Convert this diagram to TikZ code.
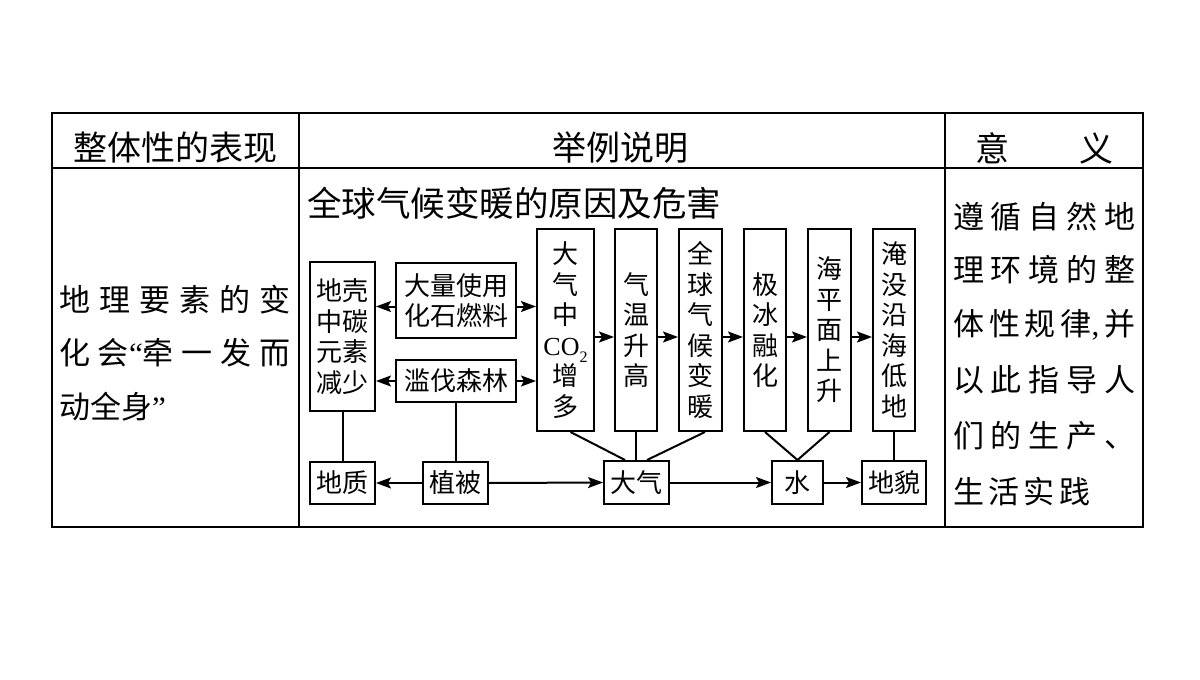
\documentclass[tikz,border=0pt]{standalone}
\usepackage{fontspec}
\setmainfont{Noto Sans CJK SC}
\newfontfamily\latf{Liberation Serif}
\usetikzlibrary{arrows.meta}
\begin{document}
\begin{tikzpicture}[x=1pt,y=-1pt,
 bx/.style={draw,line width=2pt,inner sep=0pt,align=center,font=\fontsize{26}{30.5}\selectfont},
 ln/.style={line width=2pt},
 arr/.style={line width=2pt,-{Stealth[length=15pt,width=11pt,inset=3pt]}},
 tb/.style={line width=1.5pt},
 hd/.style={font=\fontsize{34}{40}\selectfont},
 tx/.style={font=\fontsize{31}{36}\selectfont,anchor=west,inner sep=0pt}]
\useasboundingbox[fill=white] (0,0) rectangle (1200,680);
% table
\draw[tb] (52,113) rectangle (1143,527);
\draw[tb] (52,168) -- (1143,168);
\draw[tb] (299,113) -- (299,527);
\draw[tb] (945,113) -- (945,527);
% headers
\node[hd] (h1) at (175,148) {整体性的表现};
\node[hd] (h2) at (620,148) {举例说明};
\node[hd,anchor=west,inner sep=0pt] (h3) at (975,148) {\hbox to 138pt{意\hfill 义}};
% left column
\node[tx] (l1) at (59,300) {\hbox to 231pt{地\hfill 理\hfill 要\hfill 素\hfill 的\hfill 变}};
\node[tx] (l2) at (59,353) {\hbox to 231pt{化\hfill 会{\latf “}牵\hfill 一\hfill 发\hfill 而}};
\node[tx] (l3) at (59,407) {动全身{\latf ”}};
% right column
\node[tx] (r1) at (953,217) {\hbox to 182pt{遵\hfill 循\hfill 自\hfill 然\hfill 地}};
\node[tx] (r2) at (953,270) {\hbox to 182pt{理\hfill 环\hfill 境\hfill 的\hfill 整}};
\node[tx] (r3) at (953,325) {\hbox to 182pt{体\hfill 性\hfill 规\hfill 律{\latf ,}\hfill 并}};
\node[tx] (r4) at (953,380) {\hbox to 182pt{以\hfill 此\hfill 指\hfill 导\hfill 人}};
\node[tx] (r5) at (953,436) {\hbox to 182pt{们\hfill 的\hfill 生\hfill 产\hfill 、}};
\node[tx] (r6) at (953,492) {\hbox to 137pt{生\hfill 活\hfill 实\hfill 践}};
% title
\node[font=\fontsize{34.5}{40}\selectfont,anchor=west,inner sep=0pt] (ttl) at (307,203) {全球气候变暖的原因及危害};
% boxes
\node[bx,minimum width=65,minimum height=149] (crust) at (342.5,336.5) {地壳\\中碳\\元素\\减少};
\node[bx,minimum width=120,minimum height=75] (fossil) at (456,300.5) {大量使用\\化石燃料};
\node[bx,minimum width=120,minimum height=42] (forest) at (456,381) {滥伐森林};
\node[bx,minimum width=65,minimum height=42] (geo) at (342.5,483) {地质};
\node[bx,minimum width=65,minimum height=42] (veg) at (455.5,483) {植被};
\node[bx,minimum width=57,minimum height=202] (co2) at (565.5,330) {大\\气\\中\\{\latf CO\raisebox{-0.3em}{\fontsize{16}{16}\selectfont 2}}\\增\\多};
\node[bx,minimum width=42,minimum height=202] (temp) at (636,330) {气\\温\\升\\高};
\node[bx,minimum width=43,minimum height=202] (glob) at (700.5,330) {全\\球\\气\\候\\变\\暖};
\node[bx,minimum width=42,minimum height=202] (ice) at (765,330) {极\\冰\\融\\化};
\node[bx,minimum width=43,minimum height=202] (sea) at (829.5,330) {海\\平\\面\\上\\升};
\node[bx,minimum width=42,minimum height=202] (flood) at (894,330) {淹\\没\\沿\\海\\低\\地};
\node[bx,minimum width=65,minimum height=43] (air) at (636.5,482.5) {大气};
\node[bx,minimum width=51,minimum height=43] (water) at (797.5,482.5) {水};
\node[bx,minimum width=64,minimum height=43] (land) at (894,482.5) {地貌};
% connectors
\draw[arr] ([yshift=-6pt]fossil.west) -- ([yshift=-6pt]fossil.west -| crust.east);
\draw[arr] ([yshift=-6pt]fossil.east) -- ([yshift=-6pt]fossil.east -| co2.west);
\draw[arr] (forest.west) -- (forest.west -| crust.east);
\draw[arr] (forest.east) -- (forest.east -| co2.west);
\draw[ln] (crust.south) -- (geo.north);
\draw[ln] (forest.south) -- (forest.south |- veg.north);
\draw[arr] (veg.west) -- (geo.east);
\draw[arr] (veg.east) -- (air.west);
\draw[arr] ([yshift=-7pt]co2.east) -- ([yshift=-7pt]temp.west);
\draw[arr] ([yshift=-7pt]temp.east) -- ([yshift=-7pt]glob.west);
\draw[arr] ([yshift=-7pt]glob.east) -- ([yshift=-7pt]ice.west);
\draw[arr] ([yshift=-7pt]ice.east) -- ([yshift=-7pt]sea.west);
\draw[arr] ([yshift=-7pt]sea.east) -- ([yshift=-7pt]flood.west);
\draw[ln] ([xshift=5pt]co2.south) -- ([xshift=-11.5pt]air.north);
\draw[ln] (temp.south) -- (temp.south |- air.north);
\draw[ln] ([xshift=4.5pt]glob.south) -- ([xshift=10.5pt]air.north);
\draw[arr] (air.east) -- (water.west);
\draw[ln] (ice.south) -- (water.north);
\draw[ln] (sea.south) -- (water.north);
\draw[arr] (water.east) -- (land.west);
\draw[ln] (flood.south) -- (land.north);
\end{tikzpicture}
\end{document}
